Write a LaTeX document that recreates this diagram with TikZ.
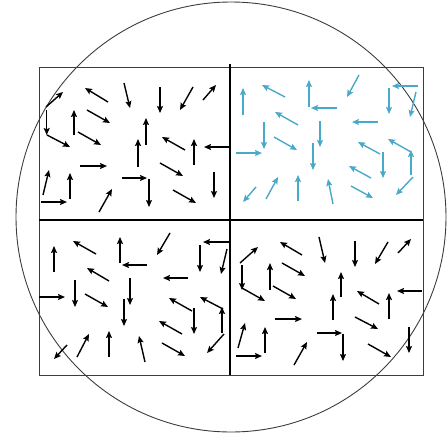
\documentclass[tikz,border=0pt]{standalone}
\usetikzlibrary{arrows.meta}
\definecolor{cyanarrow}{RGB}{72,170,200}
\definecolor{framegray}{RGB}{60,60,60}
\tikzset{
  vec/.style={line width=1.4pt,-{Stealth[length=7pt,width=6pt,inset=1.3pt]}},
  blk/.style={vec,black},
  cyn/.style={vec,cyanarrow},
  frame/.style={draw=framegray,line width=0.9pt},
  divider/.style={draw=black,line width=2pt},
  ring/.style={draw=framegray,line width=0.9pt}
}
\begin{document}
\begin{tikzpicture}[x=1pt,y=-1pt]
\useasboundingbox (0,0) rectangle (448,440);
% frame
\draw[frame] (39,67) rectangle (423,375);
\draw[divider] (230,64) -- (230,375);
\draw[divider] (39,220) -- (423,220);
% circle
\draw[ring] (231,217) circle[radius=215];

% ---------- top-left (black)
\begin{scope}[blk]
\draw (46,107) -- (63,92);
\draw (46.7,110) -- (46.7,135);
\draw (47,135) -- (70,147);
\draw (74,135) -- (74,110);
\draw (78,132) -- (101,145);
\draw (108,102) -- (85,88);
\draw (87,110) -- (110,123);
\draw (124,83) -- (130,108);
\draw (160,87) -- (160,113);
\draw (193,87) -- (180,110);
\draw (203,100) -- (216,85);
\draw (146,145) -- (146,118);
\draw (138,167) -- (138,139);
\draw (185,150) -- (162,137);
\draw (229,147) -- (204,147);
\draw (194,165) -- (194,139);
\draw (160,163) -- (183,176);
\draw (80,166) -- (107,166);
\draw (122,178) -- (147,178);
\draw (149,179) -- (149,207);
\draw (173,190) -- (196,203);
\draw (214,172) -- (214,198);
\draw (43,195) -- (49,170);
\draw (70,199) -- (70,173);
\draw (41,202) -- (67,202);
\draw (99,212) -- (112,189);
\end{scope}

% ---------- bottom-right (black)
\begin{scope}[blk]
\draw (240,263) -- (258,247);
\draw (242,265) -- (242,290);
\draw (242,288) -- (265,301);
\draw (270,290) -- (270,263);
\draw (273,286) -- (296,299);
\draw (302,255) -- (280,242);
\draw (282,263) -- (305,276);
\draw (319,237) -- (325,263);
\draw (355,241) -- (355,267);
\draw (388,242) -- (375,264);
\draw (398,253) -- (411,239);
\draw (341,297) -- (341,272);
\draw (333,320) -- (333,294);
\draw (379,304) -- (357,291);
\draw (422,291) -- (397,291);
\draw (389,319) -- (389,293);
\draw (355,317) -- (378,329);
\draw (275,319) -- (302,319);
\draw (317,333) -- (342,333);
\draw (343,334) -- (343,361);
\draw (368,344) -- (391,357);
\draw (409,327) -- (409,353);
\draw (238,348) -- (245,323);
\draw (265,353) -- (265,327);
\draw (236,356) -- (262,356);
\draw (294,365) -- (307,342);
\end{scope}

% ---------- top-right (cyan)
\begin{scope}[cyn]
\draw (243,115) -- (243,88);
\draw (285,97) -- (262,85);
\draw (337,108) -- (311,108);
\draw (309,107) -- (309,80);
\draw (359,75) -- (347,97);
\draw (418,86) -- (392,86);
\draw (389,88) -- (389,114);
\draw (416,92) -- (410,117);
\draw (298,125) -- (275,112);
\draw (320,121) -- (320,147);
\draw (378,122) -- (352,122);
\draw (264,122) -- (264,149);
\draw (236,153) -- (262,153);
\draw (274,137) -- (297,150);
\draw (313,143) -- (313,170);
\draw (380,154) -- (358,142);
\draw (411,152) -- (388,139);
\draw (411,175) -- (411,150);
\draw (383,152) -- (383,178);
\draw (371,178) -- (349,166);
\draw (413,177) -- (396,195);
\draw (351,186) -- (373,198);
\draw (256,187) -- (243,202);
\draw (266,199) -- (278,177);
\draw (298,201) -- (298,175);
\draw (333,204) -- (328,179);
\end{scope}

% ---------- bottom-left (black)
\begin{scope}[blk]
\draw (54,272) -- (54,246);
\draw (96,254) -- (73,241);
\draw (147,265) -- (122,265);
\draw (120,263) -- (120,237);
\draw (170,233) -- (157,255);
\draw (229,242) -- (203,242);
\draw (200,245) -- (200,272);
\draw (227,249) -- (221,274);
\draw (109,281) -- (87,268);
\draw (130,278) -- (130,305);
\draw (188,278) -- (163,278);
\draw (75,280) -- (75,307);
\draw (39,297) -- (65,297);
\draw (85,294) -- (108,307);
\draw (124,299) -- (124,326);
\draw (192,311) -- (169,298);
\draw (223,309) -- (200,297);
\draw (222,333) -- (222,307);
\draw (194,308) -- (194,334);
\draw (182,334) -- (159,321);
\draw (224,334) -- (207,353);
\draw (162,343) -- (185,356);
\draw (67,345) -- (54,359);
\draw (77,357) -- (89,334);
\draw (109,357) -- (109,331);
\draw (145,362) -- (139,336);
\end{scope}
\end{tikzpicture}
\end{document}
